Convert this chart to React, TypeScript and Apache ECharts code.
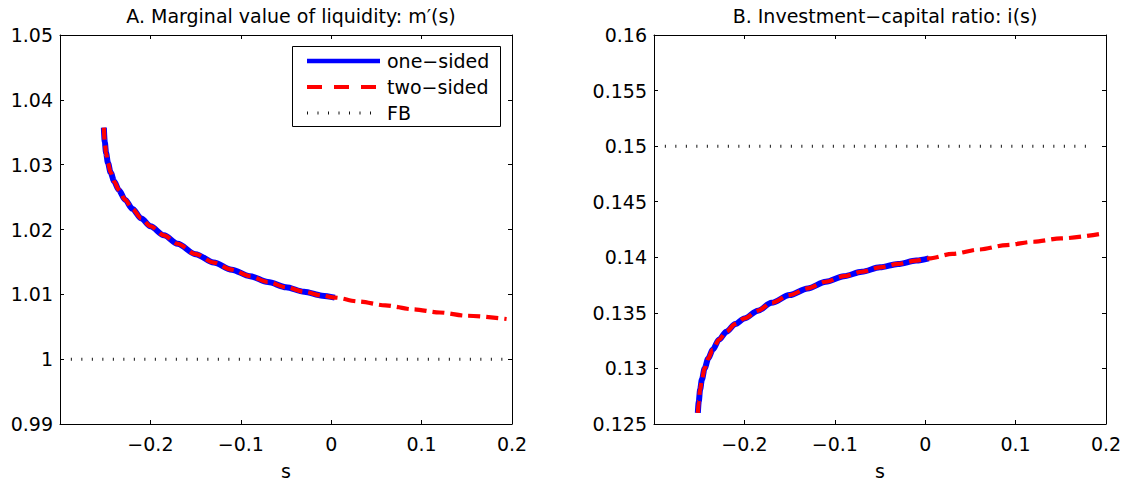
import React, { useEffect, useRef } from "react";
import * as echarts from "echarts";

// ---- Data ----
// Panel A: marginal value of liquidity m'(s)
const oneS = [-0.2515, -0.2505, -0.249, -0.247, -0.244, -0.24, -0.235, -0.228, -0.22, -0.21, -0.2, -0.185, -0.17, -0.15, -0.13, -0.11, -0.09, -0.07, -0.05, -0.03, -0.01, 0.004];
const oneM = [1.0357, 1.0335, 1.0318, 1.0303, 1.0288, 1.0274, 1.0261, 1.0246, 1.0232, 1.0217, 1.0205, 1.0191, 1.0178, 1.0162, 1.0149, 1.0138, 1.0128, 1.0119, 1.0111, 1.0104, 1.0098, 1.0095];
const twoS = [-0.2515, -0.2505, -0.249, -0.247, -0.244, -0.24, -0.235, -0.228, -0.22, -0.21, -0.2, -0.185, -0.17, -0.15, -0.13, -0.11, -0.09, -0.07, -0.05, -0.03, -0.01, 0.004, 0.03, 0.06, 0.09, 0.12, 0.15, 0.194];
const twoM = [1.0357, 1.0335, 1.0318, 1.0303, 1.0288, 1.0274, 1.0261, 1.0246, 1.0232, 1.0217, 1.0205, 1.0191, 1.0178, 1.0162, 1.0149, 1.0138, 1.0128, 1.0119, 1.0111, 1.0104, 1.0098, 1.0095, 1.0089, 1.0083, 1.0077, 1.0072, 1.0067, 1.0062];
const fbS_A = [-0.288, 0.191];
const fbM = [1.0, 1.0];

// Panel B: investment-capital ratio i(s)
const oneI = [0.126, 0.127, 0.1281, 0.129, 0.13, 0.1309, 0.1317, 0.1326, 0.1333, 0.134, 0.1345, 0.1352, 0.1359, 0.1366, 0.1372, 0.1378, 0.1383, 0.1387, 0.1391, 0.1394, 0.1397, 0.1399];
const twoI = [0.126, 0.127, 0.1281, 0.129, 0.13, 0.1309, 0.1317, 0.1326, 0.1333, 0.134, 0.1345, 0.1352, 0.1359, 0.1366, 0.1372, 0.1378, 0.1383, 0.1387, 0.1391, 0.1394, 0.1397, 0.1399, 0.1403, 0.1407, 0.1411, 0.1414, 0.1417, 0.1421];
const fbS_B = [-0.288, 0.181];
const fbI = [0.15, 0.15];

const titles = ["A. Marginal value of liquidity: m\u2032(s)", "B. Investment\u2212capital ratio: i(s)"];
const xLabel = "s";
const legendNames = ["one\u2212sided", "two\u2212sided", "FB"];

const FONT = "DejaVu Sans";
const FS = 19;

const zip = (a: number[], b: number[]) => a.map((v, i) => [v, b[i]]);
const fmtNum = (v: number) => {
  const r = +v.toFixed(4);
  return String(r).replace("-", "\u2212");
};

export default function App() {
  const ref = useRef<HTMLDivElement>(null);
  useEffect(() => {
    if (!ref.current) return;
    const chart = echarts.init(ref.current, null, { renderer: "svg" });

    const grids = [
      { left: 60, top: 35, width: 452, height: 394 },
      { left: 654, top: 35, width: 452, height: 394 },
    ];
    const yRanges = [
      { min: 0.99, max: 1.05, interval: 0.01 },
      { min: 0.125, max: 0.16, interval: 0.005 },
    ];

    const xAxes: any[] = [];
    const yAxes: any[] = [];
    grids.forEach((_, g) => {
      xAxes.push({
        type: "value",
        gridIndex: g,
        min: -0.3,
        max: 0.2,
        interval: 0.1,
        position: "bottom",
        name: xLabel,
        nameLocation: "middle",
        nameGap: 37,
        nameTextStyle: { fontFamily: FONT, fontSize: FS, color: "#000" },
        axisLine: { show: true, onZero: false, lineStyle: { color: "#000", width: 1 } },
        axisTick: { show: true, inside: true, length: 4, lineStyle: { color: "#000" } },
        axisLabel: {
          fontFamily: FONT,
          fontSize: FS,
          color: "#000",
          margin: 10,
          formatter: (v: number) => (Math.abs(v + 0.3) < 1e-9 ? "" : fmtNum(v)),
        },
        splitLine: { show: false },
      });
      xAxes.push({
        type: "value",
        gridIndex: g,
        min: -0.3,
        max: 0.2,
        interval: 0.1,
        position: "top",
        axisLine: { show: true, onZero: false, lineStyle: { color: "#000", width: 1 } },
        axisTick: { show: true, inside: true, length: 4, lineStyle: { color: "#000" } },
        axisLabel: { show: false },
        splitLine: { show: false },
      });
      const yr = yRanges[g];
      yAxes.push({
        type: "value",
        gridIndex: g,
        min: yr.min,
        max: yr.max,
        interval: yr.interval,
        position: "left",
        axisLine: { show: true, onZero: false, lineStyle: { color: "#000", width: 1 } },
        axisTick: { show: true, inside: true, length: 4, lineStyle: { color: "#000" } },
        axisLabel: {
          fontFamily: FONT,
          fontSize: FS,
          color: "#000",
          margin: 7,
          formatter: (v: number) => fmtNum(v),
        },
        splitLine: { show: false },
      });
      yAxes.push({
        type: "value",
        gridIndex: g,
        min: yr.min,
        max: yr.max,
        interval: yr.interval,
        position: "right",
        axisLine: { show: true, onZero: false, lineStyle: { color: "#000", width: 1 } },
        axisTick: { show: true, inside: true, length: 4, lineStyle: { color: "#000" } },
        axisLabel: { show: false },
        splitLine: { show: false },
      });
    });

    const BLUE = "#0000ff";
    const RED = "#ff0000";
    const DOT = "#111";
    const blueStyle = { color: BLUE, width: 6, type: "solid" };
    const redStyle = { color: RED, width: 4.2, type: [12, 6], cap: "butt" };
    const fbStyle = { color: DOT, width: 3, type: [1, 9.5], cap: "butt" };

    const mk = (name: string, data: number[][], g: number, lineStyle: any, z: number, smooth: boolean) => ({
      type: "line",
      name,
      xAxisIndex: g * 2,
      yAxisIndex: g * 2,
      data,
      symbol: "none",
      showSymbol: false,
      smooth: smooth ? 0.3 : false,
      smoothMonotone: "x",
      lineStyle,
      itemStyle: { color: lineStyle.color },
      z,
      silent: true,
    });

    const series = [
      mk(legendNames[0], zip(oneS, oneM), 0, blueStyle, 2, true),
      mk(legendNames[1], zip(twoS, twoM), 0, redStyle, 3, true),
      mk(legendNames[2], zip(fbS_A, fbM), 0, fbStyle, 2, false),
      mk(legendNames[0], zip(oneS, oneI), 1, blueStyle, 2, true),
      mk(legendNames[1], zip(twoS, twoI), 1, redStyle, 3, true),
      mk(legendNames[2], zip(fbS_B, fbI), 1, fbStyle, 2, false),
    ];

    // Legend box drawn with graphic elements
    const lgX = 292.5, lgY = 46.5, lgW = 208, lgH = 80;
    const rowY = [61, 87, 113];
    const sampleX1 = 307, sampleX2 = 380, textX = 387;
    const legendStyles = [
      { stroke: BLUE, lineWidth: 4.5, lineDash: null as any },
      { stroke: RED, lineWidth: 4, lineDash: [15, 12] },
      { stroke: DOT, lineWidth: 3, lineDash: [1, 9.5] },
    ];
    const legendGraphic: any[] = [
      {
        type: "rect",
        shape: { x: lgX, y: lgY, width: lgW, height: lgH },
        style: { fill: "#fff", stroke: "#000", lineWidth: 1 },
        z: 10,
      },
    ];
    legendNames.forEach((n, i) => {
      legendGraphic.push({
        type: "line",
        shape: { x1: sampleX1, y1: rowY[i], x2: sampleX2, y2: rowY[i] },
        style: { ...legendStyles[i], lineCap: "butt" },
        z: 11,
      });
      legendGraphic.push({
        type: "text",
        x: textX,
        y: rowY[i],
        style: { text: n, fontFamily: FONT, fontSize: FS, fill: "#000", verticalAlign: "middle", align: "left" },
        z: 11,
      });
    });

    chart.setOption({
      animation: false,
      backgroundColor: "#fff",
      title: titles.map((t, g) => ({
        text: t,
        left: grids[g].left + grids[g].width / 2,
        textAlign: "center",
        top: 1,
        textStyle: { fontFamily: FONT, fontSize: FS, fontWeight: "normal", color: "#000" },
      })),
      grid: grids,
      xAxis: xAxes,
      yAxis: yAxes,
      graphic: legendGraphic,
      series,
    });
    return () => chart.dispose();
  }, []);
  return <div ref={ref} style={{ position: "absolute", left: 0, top: 0, width: 1136, height: 485 }} />;
}
